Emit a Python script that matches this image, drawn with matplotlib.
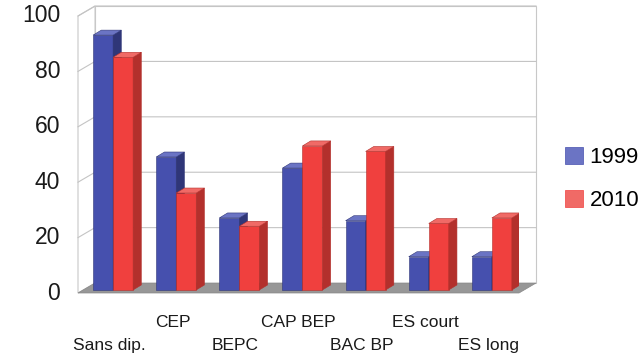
import numpy as np
import matplotlib.pyplot as plt
from matplotlib.patches import Polygon, Patch

plt.rcParams['font.family'] = ['Liberation Sans', 'DejaVu Sans']

# Données
categories = ['Sans dip.', 'CEP', 'BEPC', 'CAP BEP', 'BAC BP', 'ES court', 'ES long']
val_1999 = [92, 48, 26, 44, 25, 12, 12]
val_2010 = [84, 35, 23, 52, 50, 24, 26]
yticks = [0, 20, 40, 60, 80, 100]

# Couleurs (face, côté, dessus)
bleu = ('#4650ae', '#2f3678', '#6b74c4')
rouge = ('#f0403e', '#b3302c', '#f06a66')

# Géométrie de la perspective (unités des données)
larg = 0.317          # largeur d'une barre
bx, by = 0.13, 1.8    # profondeur d'une barre
wx, wy = 0.27, 3.6    # profondeur du mur de fond
base = 1.1            # pied des barres au-dessus du bord avant du sol
xmin, xmax = -0.556, 6.43

fig = plt.figure(figsize=(6.42, 3.6), dpi=100)
ax = fig.add_axes([78 / 642, 67 / 360, (519 - 78) / 642, 277 / 360])
ax.set_xlim(xmin, xmax)
ax.set_ylim(0, 100)
ax.axis('off')

# Mur de fond, mur gauche et sol
ax.add_patch(Polygon([(xmin + wx, wy), (xmax + wx, wy), (xmax + wx, 100 + wy),
                      (xmin + wx, 100 + wy)], closed=True, fc='white',
                     ec='#c8c8c8', lw=0.8, clip_on=False, zorder=0))
ax.add_patch(Polygon([(xmin, 0), (xmin + wx, wy), (xmin + wx, 100 + wy),
                      (xmin, 100)], closed=True, fc='white',
                     ec='#c8c8c8', lw=0.8, clip_on=False, zorder=0))
ax.add_patch(Polygon([(xmin, 0), (xmax, 0), (xmax + wx, wy), (xmin + wx, wy)],
                     closed=True, fc='#979797', ec='#888888', lw=0.5,
                     clip_on=False, zorder=1))

# Quadrillage et graduations
for t in yticks:
    if t > 0:
        ax.plot([xmin, xmin + wx, xmax + wx], [t, t + wy, t + wy],
                color='#c4c4c4', lw=0.8, clip_on=False, zorder=0.5)
    ax.text(xmin - 0.28, t, str(t), ha='right', va='center', fontsize=16.5,
            color='#1a1a1a')


def barre_3d(x, v, couleurs, z):
    face, cote, dessus = couleurs
    ax.bar(x, v, width=larg, bottom=base, align='edge', color=face,
           edgecolor=cote, linewidth=0.4, zorder=z)
    haut = base + v
    ax.add_patch(Polygon([(x + larg, base), (x + larg + bx, base + by),
                          (x + larg + bx, haut + by), (x + larg, haut)],
                         closed=True, fc=cote, ec=cote, lw=0.4, zorder=z))
    ax.add_patch(Polygon([(x, haut), (x + larg, haut),
                          (x + larg + bx, haut + by), (x + bx, haut + by)],
                         closed=True, fc=dessus, ec=cote, lw=0.4, zorder=z))


idx = np.arange(len(categories))
for i in idx:
    barre_3d(i - larg, val_1999[i], bleu, 2 + i)
    barre_3d(i, val_2010[i], rouge, 2.5 + i)

# Étiquettes de catégories sur deux rangées
for i, nom in zip(idx, categories):
    y = -10.8 if i % 2 else -19
    ax.text(i - 0.06, y, nom, ha='center', va='center', fontsize=12.5,
            color='#1a1a1a', clip_on=False)

# Légende
poignees = [Patch(fc=bleu[2], ec=bleu[0], lw=0.5),
            Patch(fc=rouge[2], ec=rouge[0], lw=0.5)]
fig.legend(poignees, ['1999', '2010'], loc='center left',
           bbox_to_anchor=(545 / 642, 1 - 179 / 360), frameon=False,
           fontsize=16, handlelength=0.8, handleheight=0.8,
           handletextpad=0.3, labelspacing=1.0)

fig.savefig('out.png', dpi=100, facecolor='white')
